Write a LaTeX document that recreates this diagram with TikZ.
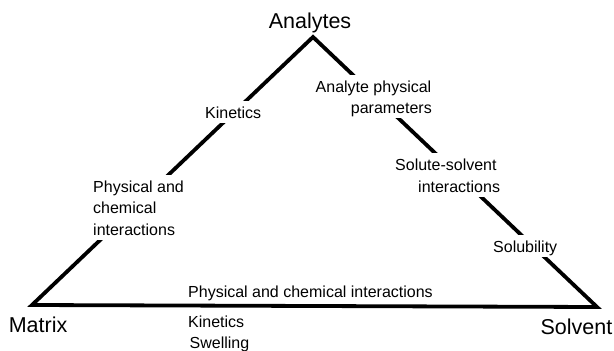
\documentclass[tikz,border=0pt]{standalone}
\usepackage{fontspec}
\setmainfont{Liberation Sans}
\begin{document}
\begin{tikzpicture}[x=1pt,y=-1pt,
  edge/.style={line width=3.8pt,line join=miter},
  big/.style={font=\fontsize{21.5}{25}\selectfont,inner sep=0pt},
  lbl/.style={font=\fontsize{16}{19}\selectfont,fill=white,inner xsep=1pt,inner ysep=0pt,text height=17pt,text depth=5pt},
  plain/.style={font=\fontsize{16}{19}\selectfont,inner sep=0pt}]
\useasboundingbox (0,0) rectangle (614,351);
\coordinate (apex) at (313,37);
\coordinate (mc) at (32,305);
\coordinate (sc) at (597,307);
\draw[edge] (apex) -- (sc) -- (mc) -- cycle;
% corner labels
\node[big,anchor=base] (analytes) at (310,28) {Analytes};
\node[big,anchor=base west] (matrix) at (8.6,332) {Matrix};
\node[big,anchor=base east] (solvent) at (612.5,334) {Solvent};
% left edge
\node[lbl,anchor=base west] (kinL) at (204,118) {Kinetics};
\node[lbl,anchor=base west] (pc1) at (92,192) {Physical and};
\node[lbl,anchor=base west] (pc2) at (92,213.5) {chemical};
\node[lbl,anchor=base west] (pc3) at (92,235) {interactions};
% right edge
\node[lbl,anchor=base east] (ap1) at (432.5,92) {Analyte physical};
\node[lbl,anchor=base east] (ap2) at (433,113) {parameters};
\node[lbl,anchor=base west] (ss1) at (394,170) {Solute-solvent};
\node[lbl,anchor=base west] (ss2) at (417,192) {interactions};
\node[lbl,anchor=base west] (sol) at (492,252) {Solubility};
% bottom edge
\node[plain,anchor=base west] (pcb) at (188,297.5) {Physical and chemical interactions};
\node[plain,anchor=base west] (kinB) at (188,327) {Kinetics};
\node[plain,anchor=base west] (swel) at (189.5,348) {Swelling};
\end{tikzpicture}
\end{document}
